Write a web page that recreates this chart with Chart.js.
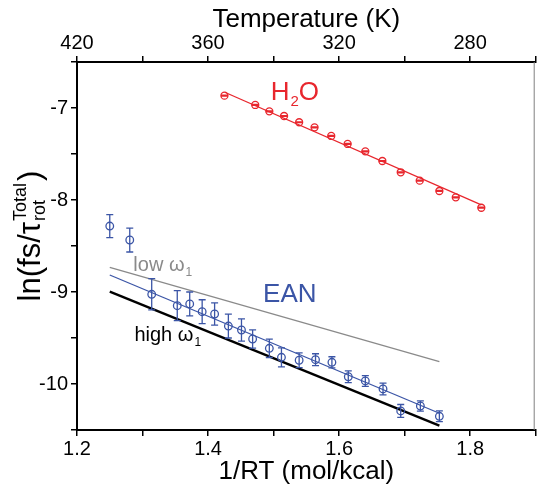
<!DOCTYPE html>
<html>
<head>
<meta charset="utf-8">
<script src="https://cdn.jsdelivr.net/npm/chart.js@4.4.1/dist/chart.umd.min.js"></script>
<style>
  html, body { margin: 0; padding: 0; background: #ffffff; }
  #wrap { width: 541px; height: 485px; }
</style>
</head>
<body>
<div id="wrap"><canvas id="c" width="541" height="485"></canvas></div>
<script>
// Rotational relaxation rates vs inverse thermal energy, water and EAN

// H2O measurements
const h2oX   = [1.425, 1.472, 1.4935, 1.516, 1.539, 1.5625, 1.588, 1.613, 1.640, 1.666, 1.694, 1.723, 1.753, 1.778, 1.817];
const h2oY   = [-6.866, -6.967, -7.036, -7.087, -7.155, -7.21, -7.304, -7.391, -7.471, -7.576, -7.699, -7.79, -7.902, -7.971, -8.084];
const h2oErr = [0.005, 0.005, 0.005, 0.005, 0.005, 0.005, 0.005, 0.005, 0.005, 0.005, 0.005, 0.005, 0.005, 0.005, 0.005];

// EAN measurements
const eanX   = [1.250, 1.2805, 1.314, 1.353, 1.372, 1.391, 1.410, 1.431, 1.451, 1.468, 1.4935, 1.512, 1.539, 1.564, 1.589, 1.614, 1.640, 1.667, 1.694, 1.724, 1.753];
const eanY   = [-8.283, -8.435, -9.025, -9.149, -9.13, -9.214, -9.239, -9.37, -9.413, -9.511, -9.612, -9.71, -9.742, -9.736, -9.764, -9.921, -9.967, -10.054, -10.293, -10.239, -10.351];
const eanErr = [0.125, 0.13, 0.17, 0.163, 0.13, 0.13, 0.12, 0.13, 0.12, 0.1, 0.1, 0.103, 0.08, 0.065, 0.06, 0.063, 0.058, 0.064, 0.07, 0.056, 0.058];

// Linear fits and model curves (end points)
const h2oFitX  = [1.4255, 1.817];
const h2oFitY  = [-6.829, -8.054];
const eanFitX  = [1.25, 1.753];
const eanFitY  = [-8.815, -10.318];
const lowW1X   = [1.25, 1.753];
const lowW1Y   = [-8.732, -9.758];
const highW1X  = [1.25, 1.753];
const highW1Y  = [-8.997, -10.453];

// Axis tick labels
const bottomTickLabels = ['1.2', '', '1.4', '', '1.6', '', '1.8', ''];
const topTickLabels    = ['420', '', '360', '', '320', '', '280', ''];

const RED = '#e8262d';
const BLUE = '#3b55a6';
const GREY = '#8a8a8a';
const FONT = '"Liberation Sans", Arial, Helvetica, sans-serif';

const pts = (xs, ys) => xs.map((x, i) => ({ x: x, y: ys[i] }));

// Vertical error bars with caps
const errorBars = {
  id: 'errorBars',
  afterDatasetsDraw(chart) {
    const ctx = chart.ctx;
    const xs = chart.scales.x, ys = chart.scales.y;
    chart.data.datasets.forEach((ds) => {
      if (!ds.errors) return;
      ctx.save();
      ctx.strokeStyle = ds.borderColor;
      ctx.lineWidth = 1.3;
      ds.data.forEach((p, i) => {
        const e = ds.errors[i];
        const px = xs.getPixelForValue(p.x);
        const y1 = ys.getPixelForValue(p.y + e);
        const y2 = ys.getPixelForValue(p.y - e);
        const cw = ds.capHalf;
        ctx.beginPath();
        ctx.moveTo(px, y1); ctx.lineTo(px, y2);
        ctx.moveTo(px - cw, y1); ctx.lineTo(px + cw, y1);
        ctx.moveTo(px - cw, y2); ctx.lineTo(px + cw, y2);
        ctx.stroke();
      });
      ctx.restore();
    });
  }
};

// Titles, right frame and in-plot annotations
const decorations = {
  id: 'decorations',
  afterDraw(chart) {
    const ctx = chart.ctx;
    const a = chart.chartArea;
    const xs = chart.scales.x, ys = chart.scales.y;
    ctx.save();

    // thin right frame
    ctx.strokeStyle = '#808080';
    ctx.lineWidth = 1;
    ctx.beginPath();
    ctx.moveTo(a.right - 1.5, a.top);
    ctx.lineTo(a.right - 1.5, a.bottom);
    ctx.stroke();

    // axis titles
    ctx.fillStyle = '#000';
    ctx.textAlign = 'center';
    ctx.textBaseline = 'alphabetic';
    ctx.font = '26px ' + FONT;
    const cx = (a.left + a.right) / 2;
    ctx.fillText('Temperature (K)', cx, 27);
    ctx.fillText('1/RT (mol/kcal)', cx, 479);

    // y title: ln(fs/τ_rot^Total)
    const main = '31px ' + FONT, small = '18px ' + FONT;
    ctx.font = main;
    const w1 = ctx.measureText('ln(fs/τ').width;
    const w3 = ctx.measureText(')').width;
    ctx.font = small;
    const w2 = Math.max(ctx.measureText('rot').width, ctx.measureText('Total').width);
    const total = w1 + w2 + 3 + w3;
    ctx.translate(40, 236);
    ctx.rotate(-Math.PI / 2);
    ctx.textAlign = 'left';
    let x0 = -total / 2;
    ctx.font = main;
    ctx.fillText('ln(fs/τ', x0, 0);
    ctx.font = small;
    ctx.fillText('Total', x0 + w1 + 1, -14);
    ctx.fillText('rot', x0 + w1 + 1, 5);
    ctx.font = main;
    ctx.fillText(')', x0 + w1 + w2 + 3, 0);
    ctx.setTransform(1, 0, 0, 1, 0, 0);

    // series labels
    ctx.textAlign = 'left';
    let px = xs.getPixelForValue(1.4956), py = ys.getPixelForValue(-6.913);
    ctx.fillStyle = RED;
    ctx.font = '26px ' + FONT;
    ctx.fillText('H', px, py);
    let wH = ctx.measureText('H').width;
    ctx.font = '15px ' + FONT;
    ctx.fillText('2', px + wH + 1, py + 6);
    let w2s = ctx.measureText('2').width;
    ctx.font = '26px ' + FONT;
    ctx.fillText('O', px + wH + w2s + 1, py);

    ctx.fillStyle = BLUE;
    ctx.fillText('EAN', xs.getPixelForValue(1.484), ys.getPixelForValue(-9.105));

    ctx.font = '20px ' + FONT;
    ctx.fillStyle = GREY;
    px = xs.getPixelForValue(1.286); py = ys.getPixelForValue(-8.772);
    ctx.fillText('low ω', px, py);
    let wl = ctx.measureText('low ω').width;
    ctx.font = '12px ' + FONT;
    ctx.fillText('1', px + wl + 1, py + 5);

    ctx.font = '20px ' + FONT;
    ctx.fillStyle = '#000';
    px = xs.getPixelForValue(1.2876); py = ys.getPixelForValue(-9.533);
    ctx.fillText('high ω', px, py);
    let wh = ctx.measureText('high ω').width;
    ctx.font = '12px ' + FONT;
    ctx.fillText('1', px + wh + 1, py + 5);

    ctx.restore();
  }
};

const axisCommon = {
  type: 'linear',
  min: 1.2,
  max: 1.9,
  ticks: {
    stepSize: 0.1,
    autoSkip: false,
    maxRotation: 0,
    color: '#000',
    font: { size: 20, family: FONT },
    padding: 1
  },
  grid: { drawOnChartArea: false, drawTicks: true, tickLength: 6, color: '#000', lineWidth: 1.5 },
  border: { display: true, color: '#000', width: 2 }
};

new Chart(document.getElementById('c'), {
  type: 'scatter',
  data: {
    datasets: [
      {
        label: 'H2O', data: pts(h2oX, h2oY), errors: h2oErr, capHalf: 3.5,
        borderColor: RED, backgroundColor: 'rgba(0,0,0,0)',
        pointRadius: 3.5, pointBorderWidth: 1.3, showLine: false
      },
      {
        label: 'EAN', data: pts(eanX, eanY), errors: eanErr, capHalf: 3.5,
        borderColor: BLUE, backgroundColor: 'rgba(0,0,0,0)',
        pointRadius: 3.8, pointBorderWidth: 1.3, showLine: false
      },
      { label: 'H2O fit', data: pts(h2oFitX, h2oFitY), showLine: true, borderColor: RED, borderWidth: 1.3, pointRadius: 0 },
      { label: 'EAN fit', data: pts(eanFitX, eanFitY), showLine: true, borderColor: BLUE, borderWidth: 1.3, pointRadius: 0 },
      { label: 'low w1', data: pts(lowW1X, lowW1Y), showLine: true, borderColor: GREY, borderWidth: 1.3, pointRadius: 0 },
      { label: 'high w1', data: pts(highW1X, highW1Y), showLine: true, borderColor: '#000', borderWidth: 2.4, pointRadius: 0 }
    ]
  },
  options: {
    responsive: false,
    animation: false,
    devicePixelRatio: 1,
    layout: { padding: { left: 0, right: 0, top: 0, bottom: 0 } },
    plugins: { legend: { display: false }, tooltip: { enabled: false } },
    scales: {
      x: Object.assign({}, axisCommon, {
        position: 'bottom',
        ticks: Object.assign({}, axisCommon.ticks, { callback: (v, i) => bottomTickLabels[i] ?? '' }),
        afterFit: s => { s.height = 55; }
      }),
      xTop: Object.assign({}, axisCommon, {
        position: 'top',
        ticks: Object.assign({}, axisCommon.ticks, { callback: (v, i) => topTickLabels[i] ?? '' }),
        afterFit: s => { s.height = 62; }
      }),
      y: {
        type: 'linear',
        min: -10.5,
        max: -6.5,
        ticks: {
          stepSize: 0.5,
          autoSkip: false,
          color: '#000',
          font: { size: 20, family: FONT },
          padding: 3,
          callback: v => Number.isInteger(v) ? String(v) : ''
        },
        grid: { drawOnChartArea: false, drawTicks: true, tickLength: 6, color: '#000', lineWidth: 1.5 },
        border: { display: true, color: '#000', width: 2 },
        afterFit: s => { s.width = 77; }
      }
    }
  },
  plugins: [errorBars, decorations]
});
</script>
</body>
</html>
